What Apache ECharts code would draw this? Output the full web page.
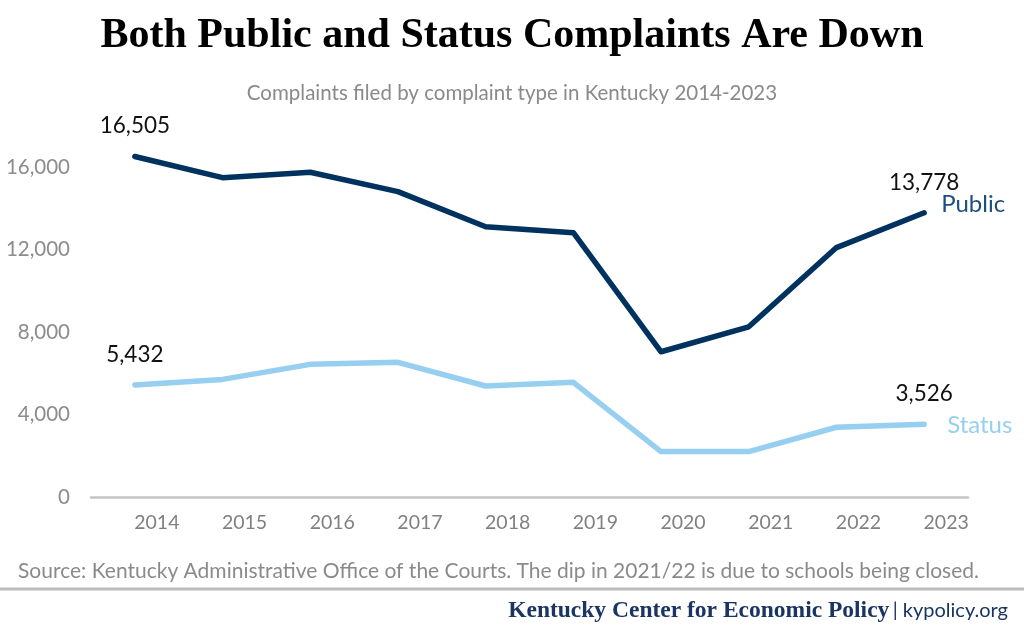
<!DOCTYPE html>
<html>
<head>
<meta charset="utf-8">
<script src="https://cdn.jsdelivr.net/npm/echarts@6/dist/echarts.min.js"></script>
<style>
html,body{margin:0;padding:0;background:#fff;}
#chart{width:1024px;height:630px;}
</style>
</head>
<body>
<div id="chart"></div>
<script>
var years = ['2014','2015','2016','2017','2018','2019','2020','2021','2022','2023'];
var publicComplaints = [16505, 15480, 15740, 14800, 13100, 12810, 7040, 8250, 12090, 13778];
var statusComplaints = [5432, 5700, 6430, 6530, 5380, 5560, 2200, 2200, 3380, 3526];
var yTicks = [0, 4000, 8000, 12000, 16000];

var NAVY = '#00325f';
var LIGHT = '#97cff0';
var sans = 'Lato, "Open Sans", sans-serif';
var serif = '"Liberation Serif", "DejaVu Serif", serif';

function fmt(v){ return v.toLocaleString('en-US'); }

function lastFirstLabel(){
  return {
    show: true,
    position: 'top',
    distance: 19,
    fontFamily: sans,
    fontSize: 22.5,
    color: '#111',
    formatter: function(p){
      return (p.dataIndex === 0 || p.dataIndex === years.length - 1) ? fmt(p.value) : '';
    }
  };
}

var chart = echarts.init(document.getElementById('chart'), null, {renderer:'canvas'});
chart.setOption({
  animation: false,
  backgroundColor: '#fff',
  title: [{
    text: 'Both Public and Status Complaints Are Down',
    left: 'center',
    top: 10,
    textStyle: {fontFamily: serif, fontWeight: 'bold', fontSize: 42, color: '#000'}
  },{
    text: 'Complaints filed by complaint type in Kentucky 2014-2023',
    left: 'center',
    top: 78,
    textStyle: {fontFamily: sans, fontWeight: 'normal', fontSize: 20.5, color: '#8a8a8a'}
  }],
  grid: {left: 91, right: 56, top: 84.4, bottom: 133, containLabel: false},
  xAxis: {
    type: 'category',
    data: years,
    boundaryGap: true,
    axisLine: {show: true, lineStyle: {color: '#c4c4c4', width: 2.5}},
    axisTick: {show: false},
    axisLabel: {
      fontFamily: sans, fontSize: 19.5, color: '#808080',
      margin: 16, padding: [0,0,0,44]
    },
    splitLine: {show: false}
  },
  yAxis: {
    type: 'value',
    min: 0, max: 20000, interval: 4000,
    axisLine: {show: false},
    axisTick: {show: false},
    splitLine: {show: false},
    axisLabel: {
      fontFamily: sans, fontSize: 20.5, color: '#8c8c8c', margin: 21,
      formatter: function(v){ return yTicks.indexOf(v) >= 0 ? fmt(v) : ''; }
    }
  },
  series: [{
    name: 'Public',
    type: 'line',
    data: publicComplaints,
    symbol: 'circle',
    symbolSize: 0.01,
    showSymbol: true,
    lineStyle: {color: NAVY, width: 5.5, cap: 'round', join: 'round'},
    itemStyle: {color: NAVY},
    label: lastFirstLabel(),
    endLabel: {
      show: true, formatter: 'Public', distance: 17, offset: [0,-8],
      fontFamily: sans, fontSize: 24, color: '#1d4e80'
    }
  },{
    name: 'Status',
    type: 'line',
    data: statusComplaints,
    symbol: 'circle',
    symbolSize: 0.01,
    showSymbol: true,
    lineStyle: {color: LIGHT, width: 5.5, cap: 'round', join: 'round'},
    itemStyle: {color: LIGHT},
    label: lastFirstLabel(),
    endLabel: {
      show: true, formatter: 'Status', distance: 23, offset: [0,1],
      fontFamily: sans, fontSize: 24, color: LIGHT
    }
  }],
  graphic: [{
    type: 'text',
    left: 18,
    top: 561,
    style: {
      text: 'Source: Kentucky Administrative Office of the Courts. The dip in 2021/22 is due to schools being closed.',
      font: '21px ' + sans,
      fill: '#8a8a8a'
    }
  },{
    type: 'line',
    shape: {x1: 0, y1: 589, x2: 1024, y2: 589},
    style: {stroke: '#bdbdbd', lineWidth: 3}
  },{
    type: 'text',
    right: 16,
    top: 599,
    style: {
      text: '{a|Kentucky Center for Economic Policy} {b|| kypolicy.org}',
      rich: {
        a: {fontFamily: serif, fontWeight: 'bold', fontSize: 23.5, fill: '#1a3563', color: '#1a3563'},
        b: {fontFamily: sans, fontSize: 20, fill: '#1a3563', color: '#1a3563'}
      }
    }
  }]
});
</script>
</body>
</html>
